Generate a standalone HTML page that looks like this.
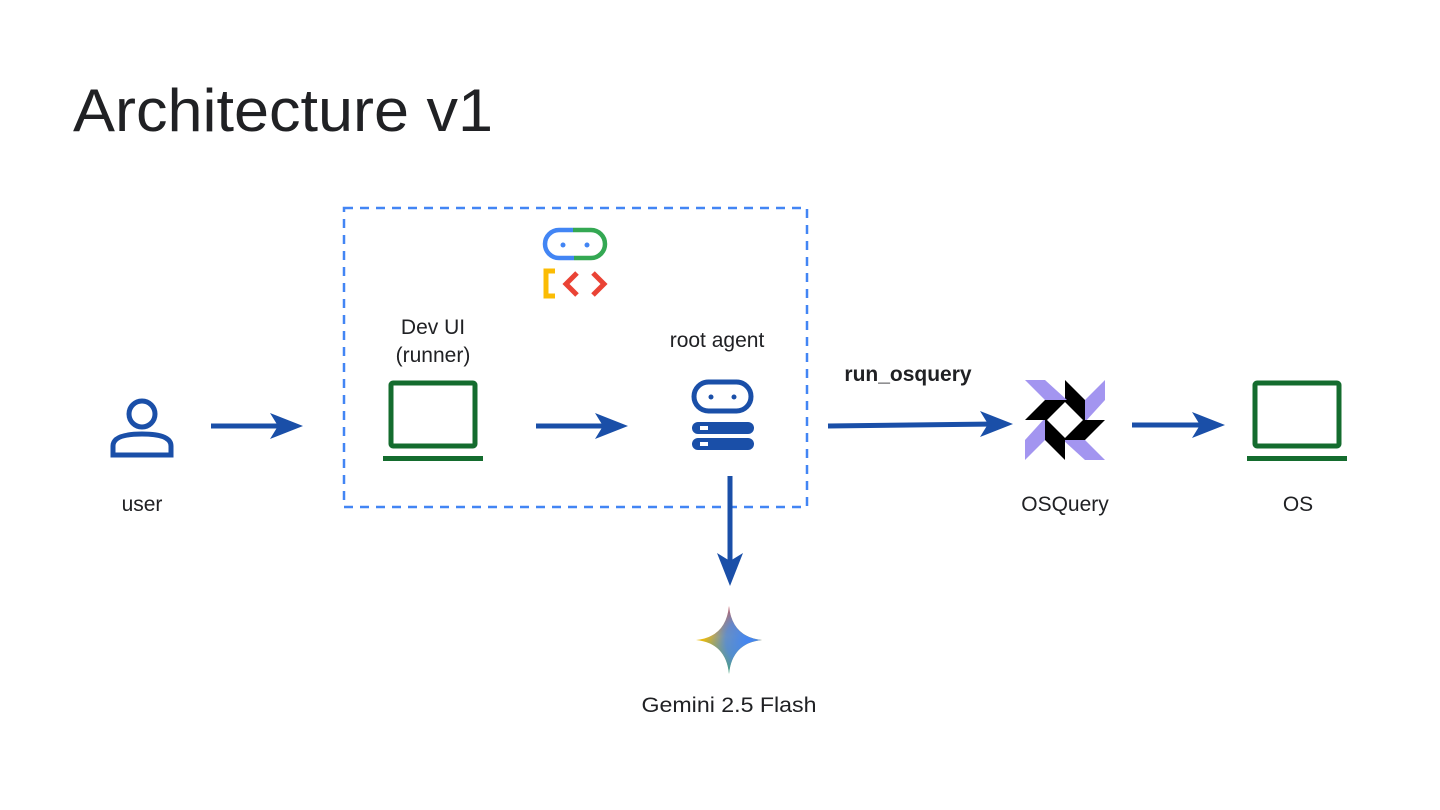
<!DOCTYPE html>
<html><head><style>
body{margin:0;background:#fff;}
svg{display:block}
text{font-family:"Liberation Sans",sans-serif;fill:#202124}
</style></head><body>
<svg width="1440" height="810" viewBox="0 0 1440 810">
<defs>
<linearGradient id="gg" x1="0.5" y1="0" x2="0.5" y2="1">
<stop offset="0" stop-color="#ea4335"/><stop offset="0.45" stop-color="#fbbc04"/><stop offset="1" stop-color="#34a853"/>
</linearGradient>
<radialGradient id="gr" cx="0.8" cy="0.5" r="0.7">
<stop offset="0" stop-color="#4285f4"/><stop offset="0.5" stop-color="#4285f4" stop-opacity="0.8"/><stop offset="1" stop-color="#4285f4" stop-opacity="0"/>
</radialGradient>
</defs>
<text x="73" y="131" font-size="60" textLength="420" lengthAdjust="spacingAndGlyphs">Architecture v1</text>
<rect x="344" y="208" width="463" height="299" fill="none" stroke="#4285f4" stroke-width="2.5" stroke-dasharray="9,7"/>

<g fill="#1a4fa8" stroke="#1a4fa8">
<line x1="211" y1="426" x2="285" y2="426" stroke-width="5"/>
<polygon points="303,426 270,413 278,426 270,439" stroke="none"/>
<line x1="536" y1="426" x2="610" y2="426" stroke-width="5"/>
<polygon points="628,426 595,413 603,426 595,439" stroke="none"/>
<line x1="828" y1="426" x2="995" y2="424" stroke-width="5"/>
<polygon points="1013,424 980,411 988,424 980,437" stroke="none"/>
<line x1="1132" y1="425" x2="1207" y2="425" stroke-width="5"/>
<polygon points="1225,425 1192,412 1200,425 1192,438" stroke="none"/>
<line x1="730" y1="476" x2="730" y2="567" stroke-width="5"/>
<polygon points="730,586 717,553 730,561 743,553" stroke="none"/>
</g>

<g fill="none" stroke="#1a4fa8" stroke-width="5">
<circle cx="142" cy="414" r="13"/>
<path d="M113,455 V446 Q113,434 142,434 Q171,434 171,446 V455 Z"/>
</g>
<text x="142" y="511" font-size="21" text-anchor="middle">user</text>

<rect x="391" y="383" width="84" height="63" fill="none" stroke="#146c2e" stroke-width="5" rx="2"/>
<rect x="383" y="456" width="100" height="5" fill="#146c2e"/>
<text x="433" y="334" font-size="21" text-anchor="middle">Dev UI</text>
<text x="433" y="362" font-size="21" text-anchor="middle">(runner)</text>

<path d="M573,230 H559 A14,14 0 0 0 559,258 H574" fill="none" stroke="#4285f4" stroke-width="4.5"/>
<path d="M573,230 H591 A14,14 0 0 1 591,258 H574" fill="none" stroke="#34a853" stroke-width="4.5"/>
<circle cx="563" cy="245" r="2.5" fill="#4285f4"/><circle cx="587" cy="245" r="2.5" fill="#4285f4"/>
<path d="M555,271 H546 V296 H555" fill="none" stroke="#fbbc04" stroke-width="5"/>
<path d="M577,273 L566,284 L577,295" fill="none" stroke="#ea4335" stroke-width="5"/>
<path d="M593,273 L604,284 L593,295" fill="none" stroke="#ea4335" stroke-width="5"/>

<text x="717" y="347" font-size="21" text-anchor="middle">root agent</text>
<rect x="694" y="382" width="57" height="29" rx="14.5" fill="none" stroke="#1a4fa8" stroke-width="5"/>
<circle cx="711" cy="397" r="2.5" fill="#1a4fa8"/><circle cx="734" cy="397" r="2.5" fill="#1a4fa8"/>
<rect x="692" y="422" width="62" height="12" rx="6" fill="#1a4fa8"/>
<rect x="692" y="438" width="62" height="12" rx="6" fill="#1a4fa8"/>
<rect x="700" y="426" width="8" height="4" fill="#fff"/>
<rect x="700" y="442" width="8" height="4" fill="#fff"/>

<path d="M729,606 Q732,637 762,640 Q732,643 729,674 Q726,643 696,640 Q726,637 729,606 Z" fill="url(#gg)"/>
<path d="M729,606 Q732,637 762,640 Q732,643 729,674 Q726,643 696,640 Q726,637 729,606 Z" fill="url(#gr)"/>
<text x="729" y="712" font-size="21" text-anchor="middle" textLength="175" lengthAdjust="spacingAndGlyphs">Gemini 2.5 Flash</text>

<text x="908" y="381" font-size="21" font-weight="bold" text-anchor="middle">run_osquery</text>

<g transform="translate(1065,420)">
<g id="arm">
<polygon points="0,-40 20,-20 20,2 0,-18" fill="#000"/>
<polygon points="40,-40 40,-20 20,2 20,-20" fill="#a395f0"/>
</g>
<use href="#arm" transform="rotate(90)"/>
<use href="#arm" transform="rotate(180)"/>
<use href="#arm" transform="rotate(270)"/>
</g>
<text x="1065" y="511" font-size="21" text-anchor="middle">OSQuery</text>

<rect x="1255" y="383" width="84" height="63" fill="none" stroke="#146c2e" stroke-width="5" rx="2"/>
<rect x="1247" y="456" width="100" height="5" fill="#146c2e"/>
<text x="1298" y="511" font-size="21" text-anchor="middle">OS</text>
</svg>
</body></html>
